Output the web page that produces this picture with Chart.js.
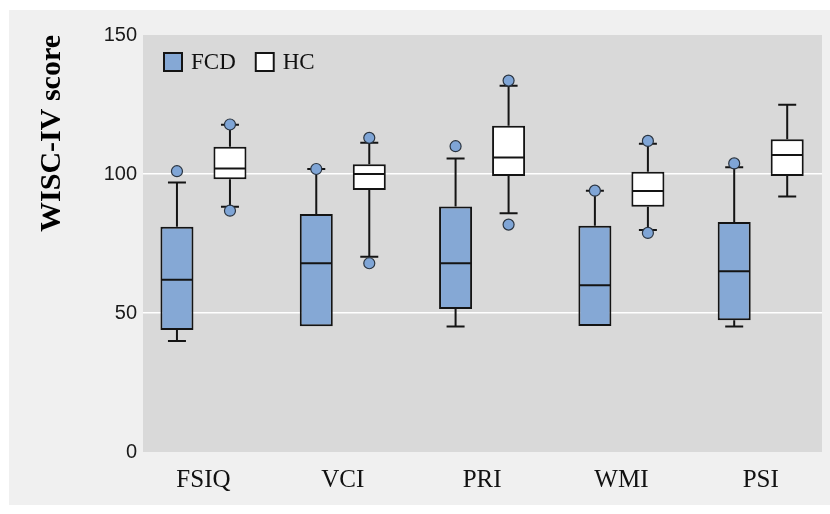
<!DOCTYPE html>
<html>
<head>
<meta charset="utf-8">
<script src="https://cdn.jsdelivr.net/npm/chart.js@4.4.1/dist/chart.umd.min.js"></script>
<style>
	body { margin: 0; background: #ffffff; }
	#panel { position: absolute; left: 9px; top: 10px; width: 821px; height: 495px; background: #f0f0f0; }
</style>
</head>
<body>
<div id="panel"><canvas id="wisc" width="821" height="495"></canvas></div>
<script>
// WISC-IV index scores, FCD patients vs healthy controls
var categories = ["FSIQ", "VCI", "PRI", "WMI", "PSI"];
var yTicks = [0, 50, 100, 150];

var fcdMin    = [39.9, 45.2, 45.1, 45.3, 45.1];
var fcdQ1     = [43.9, 45.2, 51.4, 45.3, 47.4];
var fcdMedian = [62.0, 67.9, 67.9, 60.0, 65.0];
var fcdQ3     = [81.0, 85.6, 88.3, 81.4, 82.7];
var fcdMax    = [96.9, 101.8, 105.6, 94.0, 102.4];
var fcdOutliers = [[101], [101.8], [110], [94], [103.8]];

var hcMin    = [88.2, 70.2, 85.9, 79.9, 91.9];
var hcQ1     = [98.1, 94.2, 99.3, 88.2, 99.3];
var hcMedian = [102.0, 100.0, 105.9, 93.9, 106.8];
var hcQ3     = [109.8, 103.5, 117.4, 100.8, 112.5];
var hcMax    = [117.7, 111.2, 131.7, 110.9, 124.9];
var hcOutliers = [[117.8, 86.8], [113, 67.9], [133.6, 81.8], [111.9, 78.8], []];

var boxBlue = "#85a8d5";
var dotBlue = "#7fa5d6";
var ink = "#141414";

function boxData(q1, q3){
	return categories.map(function(c, i){
		return {x: i + 1, y: [q1[i], q3[i]]};
	});
}

var plotBackground = {
	id: "plotBackground",
	beforeDraw: function(chart){
		var a = chart.chartArea, ctx = chart.ctx;
		ctx.save();
		ctx.fillStyle = "#d9d9d9";
		ctx.fillRect(a.left, a.top, a.right - a.left, a.bottom - a.top);
		ctx.restore();
	}
};

// whiskers, caps, medians and outliers on top of the floating bars
var boxExtras = {
	id: "boxExtras",
	afterDatasetsDraw: function(chart){
		var ctx = chart.ctx;
		var y = chart.scales.y;
		var groups = [
			{min: fcdMin, med: fcdMedian, q1: fcdQ1, q3: fcdQ3, max: fcdMax, out: fcdOutliers},
			{min: hcMin, med: hcMedian, q1: hcQ1, q3: hcQ3, max: hcMax, out: hcOutliers}
		];
		ctx.save();
		groups.forEach(function(g, d){
			var meta = chart.getDatasetMeta(d);
			meta.data.forEach(function(bar, i){
				var cx = bar.x, half = bar.width / 2;
				ctx.strokeStyle = ink;
				ctx.lineWidth = 2;
				ctx.beginPath();
				if(g.max[i] > g.q3[i]){
					ctx.moveTo(cx, y.getPixelForValue(g.q3[i]));
					ctx.lineTo(cx, y.getPixelForValue(g.max[i]));
					ctx.moveTo(cx - 9, y.getPixelForValue(g.max[i]));
					ctx.lineTo(cx + 9, y.getPixelForValue(g.max[i]));
				}
				if(g.min[i] < g.q1[i]){
					ctx.moveTo(cx, y.getPixelForValue(g.q1[i]));
					ctx.lineTo(cx, y.getPixelForValue(g.min[i]));
					ctx.moveTo(cx - 9, y.getPixelForValue(g.min[i]));
					ctx.lineTo(cx + 9, y.getPixelForValue(g.min[i]));
				}
				ctx.moveTo(cx - half + 1, y.getPixelForValue(g.med[i]));
				ctx.lineTo(cx + half - 1, y.getPixelForValue(g.med[i]));
				ctx.stroke();

				g.out[i].forEach(function(v){
					ctx.beginPath();
					ctx.arc(cx, y.getPixelForValue(v), 5.5, 0, Math.PI * 2);
					ctx.fillStyle = dotBlue;
					ctx.fill();
					ctx.lineWidth = 1.2;
					ctx.strokeStyle = "#2a3440";
					ctx.stroke();
				});
			});
		});
		ctx.restore();
	}
};

// legend drawn in a row inside the plot, top left
var insideLegend = {
	id: "insideLegend",
	afterDraw: function(chart){
		var ctx = chart.ctx, a = chart.chartArea;
		var x = a.left + 20, top = a.top + 17;
		ctx.save();
		ctx.font = "23px 'Liberation Serif'";
		ctx.textBaseline = "middle";
		chart.data.datasets.forEach(function(ds){
			ctx.fillStyle = ds.backgroundColor;
			ctx.fillRect(x, top, 20, 20);
			ctx.lineWidth = 2;
			ctx.strokeStyle = ds.borderColor;
			ctx.strokeRect(x + 1, top + 1, 18, 18);
			ctx.fillStyle = "#111";
			ctx.fillText(ds.label, x + 28, top + 11);
			x += 28 + ctx.measureText(ds.label).width + 19;
		});
		ctx.restore();
	}
};

var chart = new Chart(document.getElementById("wisc"), {
	type: "bar",
	data: {
		datasets: [{
			label: "FCD",
			data: boxData(fcdQ1, fcdQ3),
			backgroundColor: boxBlue,
			borderColor: ink,
			borderWidth: 2,
			borderSkipped: false
		}, {
			label: "HC",
			data: boxData(hcQ1, hcQ3),
			backgroundColor: "#ffffff",
			borderColor: ink,
			borderWidth: 2,
			borderSkipped: false
		}]
	},
	options: {
		responsive: false,
		animation: false,
		devicePixelRatio: 1,
		categoryPercentage: 0.761,
		barPercentage: 0.623,
		layout: { padding: { left: 0, top: 25, right: 8, bottom: 0 } },
		plugins: {
			legend: { display: false },
			tooltip: { enabled: false }
		},
		scales: {
			x: {
				type: "linear",
				offset: false,
				min: 0.566,
				max: 5.44,
				afterBuildTicks: function(scale){
					scale.ticks = categories.map(function(c, i){ return {value: i + 1}; });
				},
				afterFit: function(scale){ scale.height = 53; },
				grid: { display: false, offset: false },
				border: { display: false },
				ticks: {
					padding: 5,
					color: "#111",
					font: { family: "'Liberation Serif'", size: 25 },
					callback: function(value){ return categories[value - 1]; }
				}
			},
			y: {
				min: 0,
				max: 150,
				afterBuildTicks: function(scale){
					scale.ticks = yTicks.map(function(v){ return {value: v}; });
				},
				afterFit: function(scale){ scale.width = 134; },
				grid: {
					color: function(c){
						var v = c.tick ? c.tick.value : 0;
						return (v > 0 && v < 150) ? "#ffffff" : "rgba(0,0,0,0)";
					},
					lineWidth: 1.5,
					drawTicks: false
				},
				border: { display: false },
				ticks: {
					padding: 6,
					color: "#1a1a1a",
					font: { family: "'Liberation Sans'", size: 20 }
				},
				title: {
					display: true,
					text: "WISC-IV score",
					align: "end",
					color: "#000",
					padding: { top: 25 },
					font: { family: "'Liberation Serif'", size: 30, weight: "bold" }
				}
			}
		}
	},
	plugins: [plotBackground, boxExtras, insideLegend]
});
</script>
</body>
</html>
